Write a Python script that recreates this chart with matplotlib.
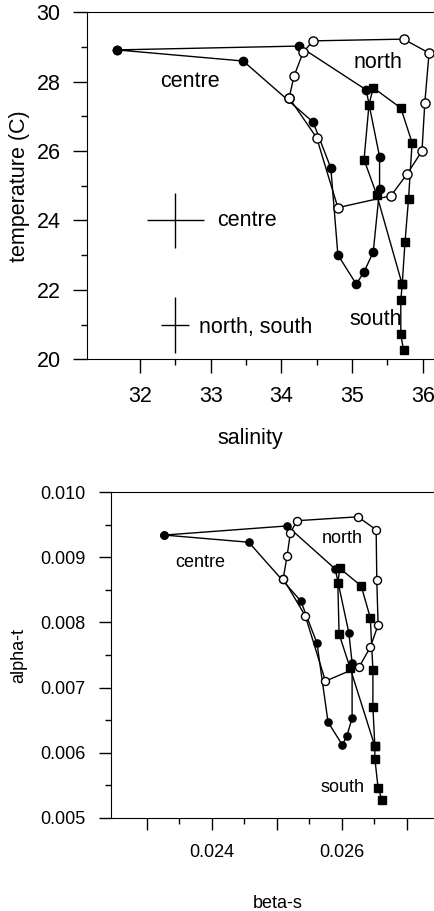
import matplotlib
matplotlib.use("Agg")
import matplotlib.pyplot as plt
from matplotlib.ticker import FixedLocator, FuncFormatter

plt.rcParams['font.family'] = ['Liberation Sans', 'DejaVu Sans']

# --- T-S points, listed in the order the lines join them ---
centre_sal = [31.67, 33.46, 34.45, 34.70, 34.80, 35.06, 35.17, 35.30, 35.39, 35.39, 35.20, 34.25, 31.67]
centre_temp = [28.91, 28.59, 26.83, 25.51, 23.01, 22.17, 22.52, 23.09, 24.91, 25.83, 27.76, 29.02, 28.91]

north_sal = [34.11, 34.50, 34.80, 35.55, 35.78, 35.99, 36.03, 36.09, 35.73, 34.45, 34.31, 34.18, 34.11]
north_temp = [27.53, 26.38, 24.37, 24.71, 25.34, 26.00, 27.39, 28.82, 29.22, 29.17, 28.85, 28.16, 27.53]

south_sal = [35.73, 35.69, 35.69, 35.71, 35.75, 35.80, 35.85, 35.69, 35.30, 35.24, 35.17, 35.35, 35.71]
south_temp = [20.26, 20.72, 21.70, 22.16, 23.39, 24.63, 26.24, 27.24, 27.82, 27.33, 25.75, 24.74, 22.16]

# error crosses (centre / north+south)
err_sal = [32.5, 32.5]
err_temp = [24.0, 21.0]
err_sal_half = [0.4, 0.2]
err_temp_half = [0.8, 0.8]
err_labels = ["centre", "north, south"]

# --- alpha-t / beta-s, same order ---
centre_beta = [0.02327, 0.02457, 0.02537, 0.02562, 0.02579, 0.02601, 0.02608, 0.02616, 0.02616, 0.02611, 0.02590, 0.02516, 0.02327]
centre_alpha = [0.00934, 0.00923, 0.00833, 0.00768, 0.00647, 0.00612, 0.00626, 0.00653, 0.00738, 0.00784, 0.00882, 0.00948, 0.00934]

north_beta = [0.02510, 0.02544, 0.02575, 0.02627, 0.02644, 0.02656, 0.02654, 0.02653, 0.02625, 0.02531, 0.02521, 0.02516, 0.02510]
north_alpha = [0.00867, 0.00810, 0.00710, 0.00732, 0.00762, 0.00796, 0.00865, 0.00942, 0.00962, 0.00956, 0.00937, 0.00902, 0.00867]

south_beta = [0.02662, 0.02656, 0.02651, 0.02651, 0.02648, 0.02648, 0.02644, 0.02630, 0.02597, 0.02594, 0.02596, 0.02613, 0.02651]
south_alpha = [0.00528, 0.00546, 0.00591, 0.00610, 0.00670, 0.00727, 0.00807, 0.00856, 0.00883, 0.00860, 0.00782, 0.00730, 0.00610]


def draw_stations(ax, c, n, s, ms):
    ax.plot(c[0], c[1], '-o', color='black', lw=1.0, ms=ms, zorder=3)
    ax.plot(s[0], s[1], '-s', color='black', lw=1.0, ms=ms, zorder=3)
    ax.plot(n[0], n[1], '-o', color='black', lw=1.0, ms=ms + 0.6,
            mfc='white', mec='black', mew=1.0, zorder=4)


def style_axes(ax, fs, major_len, pad):
    ax.spines['right'].set_visible(False)
    ax.tick_params(which='both', direction='out', width=1.0, labelsize=fs,
                   top=False, right=False)
    ax.tick_params(which='major', length=major_len, pad=pad)
    ax.tick_params(which='minor', length=4.5)


fig = plt.figure(figsize=(4.34, 9.11), dpi=100)

# top: temperature vs salinity
ax1 = fig.add_axes([0.2005, 0.6054, 0.7995, 0.3814])
draw_stations(ax1, (centre_sal, centre_temp), (north_sal, north_temp),
              (south_sal, south_temp), 6.0)
ax1.errorbar(err_sal, err_temp, xerr=err_sal_half, yerr=err_temp_half,
             fmt='none', ecolor='black', elinewidth=1.0, capsize=0)
ax1.text(33.09, err_temp[0], err_labels[0], fontsize=15.5, va='center')
ax1.text(32.83, err_temp[1] - 0.08, err_labels[1], fontsize=15.5, va='center')
ax1.text(32.71, 28.0, "centre", fontsize=15.5, ha='center', va='center')
ax1.text(35.37, 28.56, "north", fontsize=15.5, ha='center', va='center')
ax1.text(35.33, 21.15, "south", fontsize=15.5, ha='center', va='center')
ax1.set_xlim(31.25, 36.16)
ax1.set_ylim(20, 30)
ax1.xaxis.set_major_locator(FixedLocator([32, 33, 34, 35, 36]))
ax1.xaxis.set_minor_locator(FixedLocator([32.5, 33.5, 34.5, 35.5]))
ax1.yaxis.set_major_locator(FixedLocator([20, 22, 24, 26, 28, 30]))
ax1.yaxis.set_minor_locator(FixedLocator([21, 23, 25, 27, 29]))
style_axes(ax1, 15.5, 10, 9)
ax1.set_xlabel("salinity", fontsize=15.5)
ax1.set_ylabel("temperature (C)", fontsize=15.5, va='center')
ax1.xaxis.set_label_coords(0.47, -0.196)
ax1.yaxis.set_label_coords(-0.196, 0.5)

# bottom: alpha-t vs beta-s
ax2 = fig.add_axes([0.2558, 0.1021, 0.7442, 0.3578])
draw_stations(ax2, (centre_beta, centre_alpha), (north_beta, north_alpha),
              (south_beta, south_alpha), 5.2)
ax2.text(0.023828, 0.008926, "centre", fontsize=13, ha='center', va='center')
ax2.text(0.026012, 0.009294, "north", fontsize=13, ha='center', va='center')
ax2.text(0.026005, 0.005475, "south", fontsize=13, ha='center', va='center')
ax2.set_xlim(0.022451, 0.02742)
ax2.set_ylim(0.005, 0.010)
ax2.xaxis.set_major_locator(FixedLocator([0.023, 0.024, 0.025, 0.026, 0.027]))
ax2.xaxis.set_minor_locator(FixedLocator([0.0235, 0.0245, 0.0255, 0.0265]))
ax2.xaxis.set_major_formatter(FuncFormatter(
    lambda v, p: f"{v:.3f}" if round(v * 1000) % 2 == 0 else ""))
ax2.yaxis.set_major_locator(FixedLocator([0.005, 0.006, 0.007, 0.008, 0.009, 0.010]))
ax2.yaxis.set_minor_locator(FixedLocator([0.0055, 0.0065, 0.0075, 0.0085, 0.0095]))
ax2.yaxis.set_major_formatter(FuncFormatter(lambda v, p: f"{v:.3f}"))
style_axes(ax2, 13, 8.5, 10)
ax2.set_xlabel("beta-s", fontsize=13)
ax2.set_ylabel("alpha-t", fontsize=13, va='center')
ax2.xaxis.set_label_coords(0.515, -0.235)
ax2.yaxis.set_label_coords(-0.285, 0.5)

fig.savefig("out.png", dpi=100)
